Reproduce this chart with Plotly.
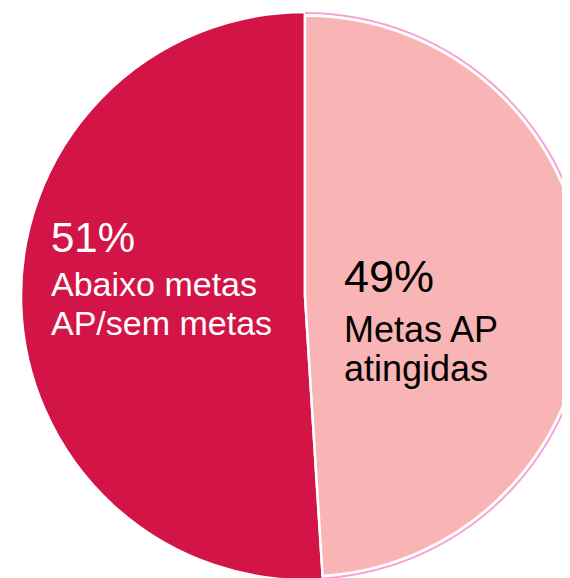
import plotly.graph_objects as go

# Data
labels = ["Metas AP atingidas", "Abaixo metas AP/sem metas"]
values = [49, 51]
pct_labels = ["49%", "51%"]
text_lines = [["Metas AP", "atingidas"], ["Abaixo metas", "AP/sem metas"]]
colors = ["#F9B4B5", "#D31446"]
rim_color = "#F6A2D2"
text_colors = ["#000000", "#FFFFFF"]

TRANSP = "rgba(0,0,0,0)"

W, H = 581, 572
L, T = 13, 4
PW = W - L
PH = H - T
OFF = 8  # body margin of the page


def px(X):
    return (X - OFF - L) / PW


def py(Y):
    return 1 - (Y - OFF - T) / PH


inset = 3.5 / PW
common = dict(labels=labels, values=values, sort=False, direction="clockwise",
              rotation=0, textinfo="none", showlegend=False)

fig = go.Figure()
# dark slice (full radius)
fig.add_trace(go.Pie(
    **common,
    marker=dict(colors=[TRANSP, colors[1]],
                line=dict(color="white", width=[0, 2.5])),
    hoverinfo="label+percent",
    domain=dict(x=[0, 1], y=[0, 1]),
))
# thin outer rim on the light slice
fig.add_trace(go.Pie(
    **common,
    hole=0.993,
    marker=dict(colors=[rim_color, TRANSP], line=dict(width=0)),
    hoverinfo="skip",
    domain=dict(x=[0, 1], y=[0, 1]),
))
# light slice (slightly smaller radius)
fig.add_trace(go.Pie(
    **common,
    marker=dict(colors=[colors[0], TRANSP],
                line=dict(color="white", width=[2.5, 0])),
    hoverinfo="label+percent",
    domain=dict(x=[inset, 1 - inset], y=[inset, 1 - inset]),
))

FONT = "Liberation Sans, Arial, sans-serif"

# annotation placement (viewport pixels): x-left, baselines, font sizes
placements = [
    dict(x=343, base=[292, 342, 381], fs=[45, 36, 36]),
    dict(x=50, base=[252, 296, 335], fs=[42, 34, 34]),
]

annotations = []
for i in range(len(values)):
    p = placements[i]
    lines = [pct_labels[i]] + text_lines[i]
    for line, b, fs in zip(lines, p["base"], p["fs"]):
        yc = b - 0.3465 * fs
        annotations.append(
            dict(
                text=line,
                x=px(p["x"]),
                y=py(yc),
                xref="paper",
                yref="paper",
                xanchor="left",
                yanchor="middle",
                showarrow=False,
                borderpad=0,
                font=dict(family=FONT, size=fs, color=text_colors[i]),
            )
        )

fig.update_layout(
    width=W,
    height=H,
    margin=dict(l=L, r=0, t=T, b=0, pad=0),
    paper_bgcolor="white",
    plot_bgcolor="white",
    annotations=annotations,
)

fig.write_html("out.html")
